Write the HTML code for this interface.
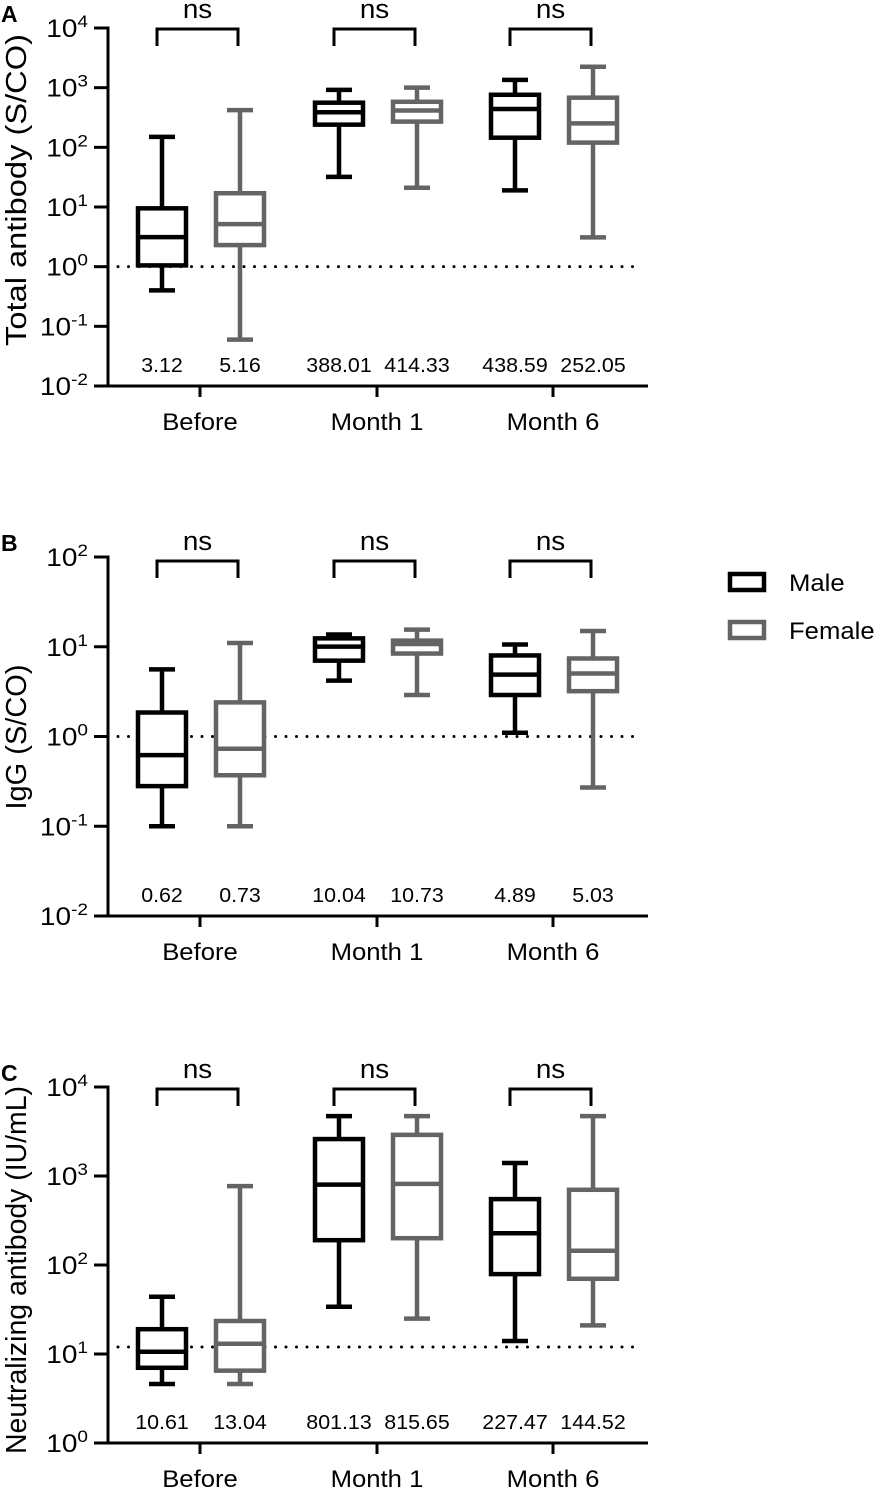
<!DOCTYPE html>
<html><head><meta charset="utf-8">
<style>
html,body{margin:0;padding:0;background:#fff;}
svg{display:block;font-family:"Liberation Sans",Arial,sans-serif;}
</style></head>
<body>
<svg id="fig" width="889" height="1489" viewBox="0 0 889 1489" xmlns="http://www.w3.org/2000/svg"></svg>
<script>
// ---- data ----
const categories = ["Before", "Month 1", "Month 6"];
const groups = ["Male", "Female"];
// Panel A: Total antibody (S/CO)  [min, q1, median, q3, max]
const aMale   = [[0.4,1.05,3.12,9.5,150],[32,240,388.01,560,920],[19,145,438.59,760,1350]];
const aFemale = [[0.06,2.3,5.16,17,420],[21,270,414.33,580,1000],[3.1,120,252.05,680,2240]];
const aMedLabels = ["3.12","5.16","388.01","414.33","438.59","252.05"];
const aTicks = [-2,-1,0,1,2,3,4];
// Panel B: IgG (S/CO)
const bMale   = [[0.1,0.28,0.62,1.85,5.6],[4.2,7,10.04,12.4,13.7],[1.1,2.9,4.89,8.0,10.6]];
const bFemale = [[0.1,0.37,0.73,2.4,11],[2.9,8.4,10.73,11.7,15.5],[0.27,3.2,5.03,7.4,15]];
const bMedLabels = ["0.62","0.73","10.04","10.73","4.89","5.03"];
const bTicks = [-2,-1,0,1,2];
// Panel C: Neutralizing antibody (IU/mL)
const cMale   = [[4.6,7,10.61,19,44],[34,190,801.13,2600,4700],[14,79,227.47,550,1400]];
const cFemale = [[4.6,6.5,13.04,23.5,770],[25,200,815.65,2900,4700],[21,70,144.52,700,4700]];
const cMedLabels = ["10.61","13.04","801.13","815.65","227.47","144.52"];
const cTicks = [0,1,2,3,4];
const refA = 1, refB = 1, refC = 12;

const NS = "http://www.w3.org/2000/svg";
const svg = document.getElementById("fig");
const SX = 1.07;
function mk(tag, attrs, parent){
  const e = document.createElementNS(NS, tag);
  for (const k in attrs) e.setAttribute(k, attrs[k]);
  (parent||svg).appendChild(e);
  return e;
}
function txt(parent, x, y, size, anchor, content){
  const t = mk("text", {x:0, y:0, "font-size":size, "text-anchor":anchor, transform:`translate(${x} ${y}) scale(${SX} 1)`}, parent);
  t.textContent = content;
  return t;
}
const catX = [200, 377, 553];
const grpOff = [-38, 40];
const colors = ["#000000", "#646464"];

function panel(cfg){
  const g = mk("g", {});
  
  
  const minE = cfg.ticks[0], maxE = cfg.ticks[cfg.ticks.length-1];
  const y = v => cfg.yBot - (Math.log10(v) - minE) / (maxE - minE) * (cfg.yBot - cfg.yTop);
  const yE = e => cfg.yBot - (e - minE) / (maxE - minE) * (cfg.yBot - cfg.yTop);
  const L = mk("text", {x:1, y:cfg.yTop-6, "font-size":23, "font-weight":"bold"}, g);
  L.textContent = cfg.letter;
  
  
  const ref = mk("line", {x1:118, x2:640, y1:y(cfg.ref), y2:y(cfg.ref), stroke:"#000", "stroke-width":3, "stroke-dasharray":"0 10.5", "stroke-linecap":"round"}, g);
  
  
  const ya = mk("line", {x1:108, x2:108, y1:cfg.yTop-1.5, y2:cfg.yBot+1.5, stroke:"#000", "stroke-width":3}, g);
  
  
  const xa = mk("line", {x1:94, x2:648, y1:cfg.yBot, y2:cfg.yBot, stroke:"#000", "stroke-width":3}, g);
  
  
  cfg.ticks.forEach(e => {
    const t = mk("line", {x1:94, x2:108, y1:yE(e), y2:yE(e), stroke:"#000", "stroke-width":3}, g);
    
    
    const tx = mk("text", {x:0, y:0, "font-size":25, "text-anchor":"end", transform:`translate(88 ${yE(e)+9}) scale(1.12 1)`}, g);
    
    
    const t1 = document.createElementNS(NS, "tspan"); t1.textContent = "10"; tx.appendChild(t1);
    const t2 = document.createElementNS(NS, "tspan"); t2.setAttribute("dy", -10); t2.setAttribute("font-size", 17); t2.textContent = String(e); tx.appendChild(t2);
  });
  const yt = mk("text", {x:0, y:0, "font-size":29, "text-anchor":"middle", textLength:cfg.titleLen, lengthAdjust:"spacingAndGlyphs", transform:`translate(26 ${cfg.titleY}) rotate(-90)`}, g);
  yt.textContent = cfg.title;
  
  
  categories.forEach((c, i) => {
    const t = mk("line", {x1:catX[i], x2:catX[i], y1:cfg.yBot, y2:cfg.yBot+11, stroke:"#000", "stroke-width":3}, g);
    
    
    const tx = txt(g, catX[i], cfg.yBot+44, 24, "middle", c);
    
    
    const bx1 = catX[i]-43, bx2 = catX[i]+38;
    const br = mk("path", {d:`M${bx1} ${cfg.brY+17} V${cfg.brY} H${bx2} V${cfg.brY+17}`, fill:"none", stroke:"#000", "stroke-width":3}, g);
    
    
    const ns = txt(g, (bx1+bx2)/2, cfg.brY-11, 26, "middle", "ns");
    
    
    [cfg.male, cfg.female].forEach((series, gi) => {
      const d = series[i];
      const cx = catX[i] + grpOff[gi];
      const col = colors[gi];
      const bg = mk("g", {stroke:col, "stroke-width":4.5, fill:"none"}, g);
      
      
      mk("line", {x1:cx, x2:cx, y1:y(d[0]), y2:y(d[1])}, bg);
      mk("line", {x1:cx, x2:cx, y1:y(d[3]), y2:y(d[4])}, bg);
      mk("line", {x1:cx-13, x2:cx+13, y1:y(d[0]), y2:y(d[0])}, bg);
      mk("line", {x1:cx-13, x2:cx+13, y1:y(d[4]), y2:y(d[4])}, bg);
      mk("rect", {x:cx-24, y:y(d[3]), width:48, height:y(d[1])-y(d[3]), fill:"#fff"}, bg);
      mk("line", {x1:cx-24, x2:cx+24, y1:y(d[2]), y2:y(d[2])}, bg);
      const ml = txt(g, cx, cfg.yBot-14, 20, "middle", cfg.labels[i*2+gi]);
      
      
    });
  });
}
panel({name:"panel-a", letter:"A", yTop:28, yBot:386, ticks:aTicks, male:aMale, female:aFemale, labels:aMedLabels, ref:refA, brY:29, title:"Total antibody (S/CO)", titleY:190, titleLen:312});
panel({name:"panel-b", letter:"B", yTop:557, yBot:916, ticks:bTicks, male:bMale, female:bFemale, labels:bMedLabels, ref:refB, brY:561, title:"IgG (S/CO)", titleY:737, titleLen:145});
panel({name:"panel-c", letter:"C", yTop:1087, yBot:1443, ticks:cTicks, male:cMale, female:cFemale, labels:cMedLabels, ref:refC, brY:1089, title:"Neutralizing antibody (IU/mL)", titleY:1270, titleLen:368});

const lg = mk("g", {});


groups.forEach((name, i) => {
  const yy = 572 + i*48;
  const r = mk("rect", {x:730, y:yy+2, width:34, height:16, fill:"#fff", stroke:colors[i], "stroke-width":4.5}, lg);
  
  
  const t = txt(lg, 789, yy+19, 24, "start", name);
  
  
});
</script>
</body></html>
